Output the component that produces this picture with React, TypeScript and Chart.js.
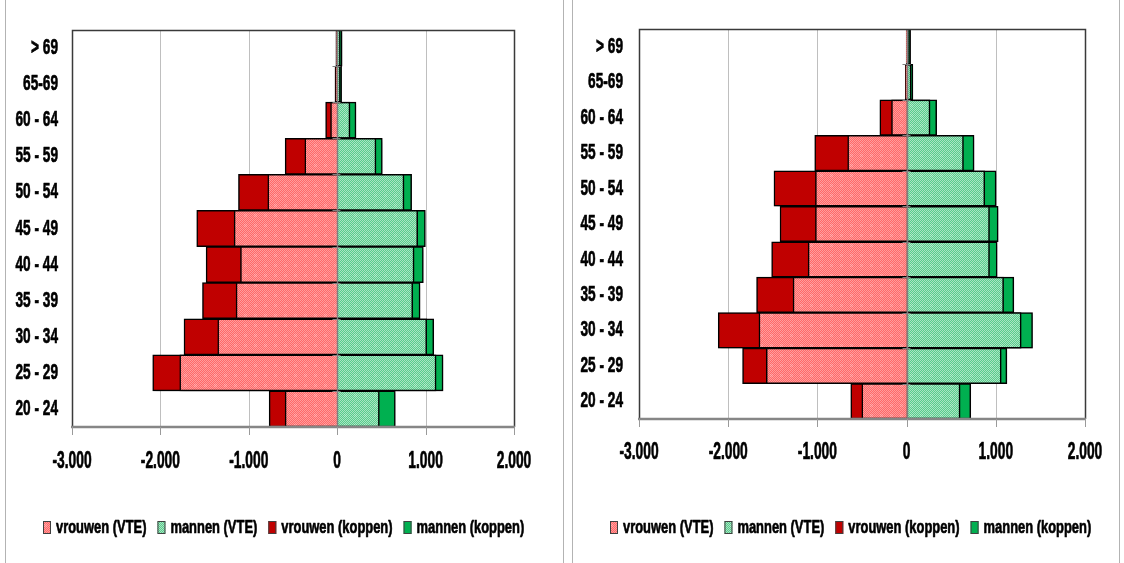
import React, { useEffect, useRef } from 'react';
import { Chart, registerables } from 'chart.js';

Chart.register(...registerables);

// Age bands, top of the pyramid first
const ageGroups = ['> 69', '65-69', '60 - 64', '55 - 59', '50 - 54', '45 - 49', '40 - 44', '35 - 39', '30 - 34', '25 - 29', '20 - 24'];
const seriesNames = ['vrouwen (VTE)', 'mannen (VTE)', 'vrouwen (koppen)', 'mannen (koppen)'];
const xTickValues = [-3000, -2000, -1000, 0, 1000, 2000];

// First pyramid
const vrouwenVteA = [-10, -15, -75, -366, -785, -1166, -1094, -1144, -1351, -1781, -589];
const mannenVteA = [35, 35, 144, 438, 755, 910, 869, 854, 1012, 1118, 476];
const vrouwenKoppenA = [-15, -25, -131, -589, -1117, -1589, -1483, -1524, -1733, -2087, -770];
const mannenKoppenA = [55, 50, 212, 510, 842, 997, 974, 937, 1092, 1197, 657];

// Second pyramid
const vrouwenVteB = [-3, -10, -169, -660, -1022, -1022, -1104, -1273, -1655, -1573, -502];
const mannenVteB = [30, 50, 262, 637, 876, 929, 929, 1087, 1284, 1060, 599];
const vrouwenKoppenB = [-5, -15, -300, -1030, -1487, -1419, -1513, -1682, -2112, -1839, -626];
const mannenKoppenB = [45, 70, 337, 756, 1003, 1026, 1015, 1202, 1412, 1124, 719];

const FONT = '"Liberation Sans", Arial, sans-serif';

function formatThousands(v: number): string {
  const s = Math.abs(v).toString().replace(/\B(?=(\d{3})+(?!\d))/g, '.');
  return (v < 0 ? '-' : '') + s;
}

// Fine checkered fill with a faint dot grid, used for the VTE bars
function makePattern(dark: string, light: string, dotDark: string, dotLight: string): CanvasPattern | string {
  const size = 10;
  const c = document.createElement('canvas');
  c.width = size;
  c.height = size;
  const g = c.getContext('2d');
  if (!g) return dark;
  for (let y = 0; y < size; y++) {
    for (let x = 0; x < size; x++) {
      const inDot = x >= 4 && x <= 6 && y >= 4 && y <= 6;
      const odd = (x + y) % 2 === 1;
      g.fillStyle = inDot ? (odd ? dotDark : dotLight) : odd ? dark : light;
      g.fillRect(x, y, 1, 1);
    }
  }
  return g.createPattern(c, 'repeat') || dark;
}

function drawSquished(ctx: CanvasRenderingContext2D, text: string, x: number, y: number, font: string, sx: number, align: CanvasTextAlign) {
  ctx.save();
  ctx.translate(x, y);
  ctx.scale(sx, 1);
  ctx.font = font;
  ctx.textAlign = align;
  ctx.textBaseline = 'middle';
  ctx.fillStyle = '#000000';
  ctx.strokeStyle = '#000000';
  ctx.lineWidth = 0.7;
  ctx.lineJoin = 'round';
  ctx.fillText(text, 0, 0);
  ctx.strokeText(text, 0, 0);
  ctx.restore();
}

type PanelProps = {
  left: number;
  width: number;
  vrouwenVte: number[];
  mannenVte: number[];
  vrouwenKoppen: number[];
  mannenKoppen: number[];
  padding: { left: number; right: number; top: number; bottom: number };
  borderX: [number, number];
  legendX: number;
  xLabelGap: number;
  yLabelGap: number;
};

function Pyramid(props: PanelProps) {
  const ref = useRef<HTMLCanvasElement | null>(null);

  useEffect(() => {
    const canvas = ref.current;
    if (!canvas) return;
    const pink = makePattern('#FF6868', '#FF9C9C', '#FF7A7A', '#FFAEAE');
    const green = makePattern('#58CC8C', '#A9E5C3', '#68D197', '#B8EACD');
    const fills = [pink, green, '#C00000', '#00B050'];

    const panelPlugin = {
      id: 'panelDecor',
      beforeDatasetsDraw(chart: any) {
        const { ctx, chartArea } = chart;
        const xs = chart.scales.x;
        ctx.save();
        ctx.strokeStyle = '#BFBFBF';
        ctx.lineWidth = 1;
        for (const v of xTickValues) {
          if (v === xTickValues[0] || v === xTickValues[xTickValues.length - 1] || v === 0) continue;
          const px = Math.round(xs.getPixelForValue(v)) + 0.5;
          ctx.beginPath();
          ctx.moveTo(px, chartArea.top);
          ctx.lineTo(px, chartArea.bottom);
          ctx.stroke();
        }
        ctx.restore();
        // soft drop shadow under the bars
        ctx.save();
        ctx.shadowColor = 'rgba(0,0,0,0.35)';
        ctx.shadowBlur = 4;
        ctx.shadowOffsetX = 2;
        ctx.shadowOffsetY = 2;
      },
      afterDatasetsDraw(chart: any) {
        const { ctx, chartArea } = chart;
        ctx.restore();
        const xs = chart.scales.x;
        const ys = chart.scales.y;
        const x0 = Math.round(xs.getPixelForValue(0)) + 0.5;
        const n = ageGroups.length;
        const band = (chartArea.bottom - chartArea.top) / n;

        ctx.save();
        // category axis through zero
        ctx.strokeStyle = '#7F7F7F';
        ctx.lineWidth = 1.5;
        ctx.beginPath();
        ctx.moveTo(x0, chartArea.top);
        ctx.lineTo(x0, chartArea.bottom);
        ctx.stroke();
        ctx.lineWidth = 1;
        for (let k = 1; k < n; k++) {
          const py = Math.round(chartArea.top + k * band) + 0.5;
          ctx.beginPath();
          ctx.moveTo(x0 - 5, py);
          ctx.lineTo(x0 + 3, py);
          ctx.stroke();
        }

        // plot frame: top, left and right
        const l = Math.round(chartArea.left) + 0.5;
        const r = Math.round(chartArea.right) + 0.5;
        const t = Math.round(chartArea.top) + 0.5;
        const b = Math.round(chartArea.bottom);
        ctx.strokeStyle = '#3A3A3A';
        ctx.lineWidth = 1.5;
        ctx.beginPath();
        ctx.moveTo(l, b);
        ctx.lineTo(l, t);
        ctx.lineTo(r, t);
        ctx.lineTo(r, b);
        ctx.stroke();

        // value axis with tick marks
        ctx.strokeStyle = '#868686';
        ctx.lineWidth = 2.5;
        ctx.beginPath();
        ctx.moveTo(chartArea.left - 1, b);
        ctx.lineTo(chartArea.right + 1, b);
        ctx.stroke();
        ctx.lineWidth = 1;
        ctx.strokeStyle = '#9A9A9A';
        for (const v of xTickValues) {
          const px = Math.round(xs.getPixelForValue(v)) + 0.5;
          ctx.beginPath();
          ctx.moveTo(px, b);
          ctx.lineTo(px, b + 8);
          ctx.stroke();
        }
        ctx.restore();

        // tick labels
        for (const v of xTickValues) {
          drawSquished(ctx, formatThousands(v), xs.getPixelForValue(v), chartArea.bottom + props.xLabelGap, `bold 23px ${FONT}`, 0.6, 'center');
        }
        ageGroups.forEach((label, i) => {
          drawSquished(ctx, label, chartArea.left - props.yLabelGap, ys.getPixelForValue(i), `bold 22px ${FONT}`, 0.62, 'right');
        });

        // legend
        const legendFont = `bold 19px ${FONT}`;
        const sx = 0.68;
        let lx = props.legendX;
        const ly = 527;
        ctx.save();
        ctx.font = legendFont;
        seriesNames.forEach((name, i) => {
          ctx.fillStyle = fills[i] as any;
          ctx.fillRect(lx, ly - 6, 8, 13);
          ctx.strokeStyle = '#404040';
          ctx.lineWidth = 1;
          ctx.strokeRect(lx + 0.5, ly - 5.5, 7, 12);
          const w = ctx.measureText(name).width * sx;
          drawSquished(ctx, name, lx + 13, ly + 1, legendFont, sx, 'left');
          lx += 13 + w + 11;
        });
        ctx.restore();

        // panel frame
        ctx.save();
        ctx.strokeStyle = '#B3B3B3';
        ctx.lineWidth = 1;
        ctx.strokeRect(props.borderX[0] + 0.5, -5, props.borderX[1] - props.borderX[0], chart.height + 10);
        ctx.restore();
      },
    };

    const common = {
      borderColor: '#000000',
      borderWidth: 1.5,
      grouped: false,
      categoryPercentage: 1,
      barPercentage: 1,
    };

    const chart = new Chart(canvas, {
      type: 'bar',
      data: {
        labels: ageGroups,
        datasets: [
          { ...common, label: seriesNames[0], data: props.vrouwenVte, backgroundColor: pink as any },
          { ...common, label: seriesNames[1], data: props.mannenVte, backgroundColor: green as any },
          { ...common, label: seriesNames[2], data: props.vrouwenKoppen, backgroundColor: '#C00000' },
          { ...common, label: seriesNames[3], data: props.mannenKoppen, backgroundColor: '#00B050' },
        ] as any,
      },
      options: {
        indexAxis: 'y',
        responsive: false,
        maintainAspectRatio: false,
        animation: false,
        layout: { padding: props.padding },
        plugins: { legend: { display: false }, tooltip: { enabled: false } },
        scales: {
          x: { type: 'linear', min: -3000, max: 2000, display: false },
          y: { type: 'category', display: false, offset: true },
        },
      },
      plugins: [panelPlugin],
    });
    return () => chart.destroy();
  }, []);

  return (
    <canvas
      ref={ref}
      width={props.width}
      height={563}
      style={{ position: 'absolute', left: props.left, top: 0, width: props.width, height: 563 }}
    />
  );
}

export default function App() {
  return (
    <div style={{ position: 'absolute', left: 0, top: 0, width: 1124, height: 563, background: '#FFFFFF', overflow: 'hidden' }}>
      <Pyramid
        left={0}
        width={566}
        vrouwenVte={vrouwenVteA}
        mannenVte={mannenVteA}
        vrouwenKoppen={vrouwenKoppenA}
        mannenKoppen={mannenKoppenA}
        padding={{ left: 72, right: 52, top: 30, bottom: 136 }}
        borderX={[5, 563]}
        legendX={43}
        xLabelGap={35}
        yLabelGap={14}
      />
      <Pyramid
        left={566}
        width={558}
        vrouwenVte={vrouwenVteB}
        mannenVte={mannenVteB}
        vrouwenKoppen={vrouwenKoppenB}
        mannenKoppen={mannenKoppenB}
        padding={{ left: 73, right: 39, top: 29, bottom: 144 }}
        borderX={[6, 553]}
        legendX={44}
        xLabelGap={34}
        yLabelGap={16}
      />
    </div>
  );
}
